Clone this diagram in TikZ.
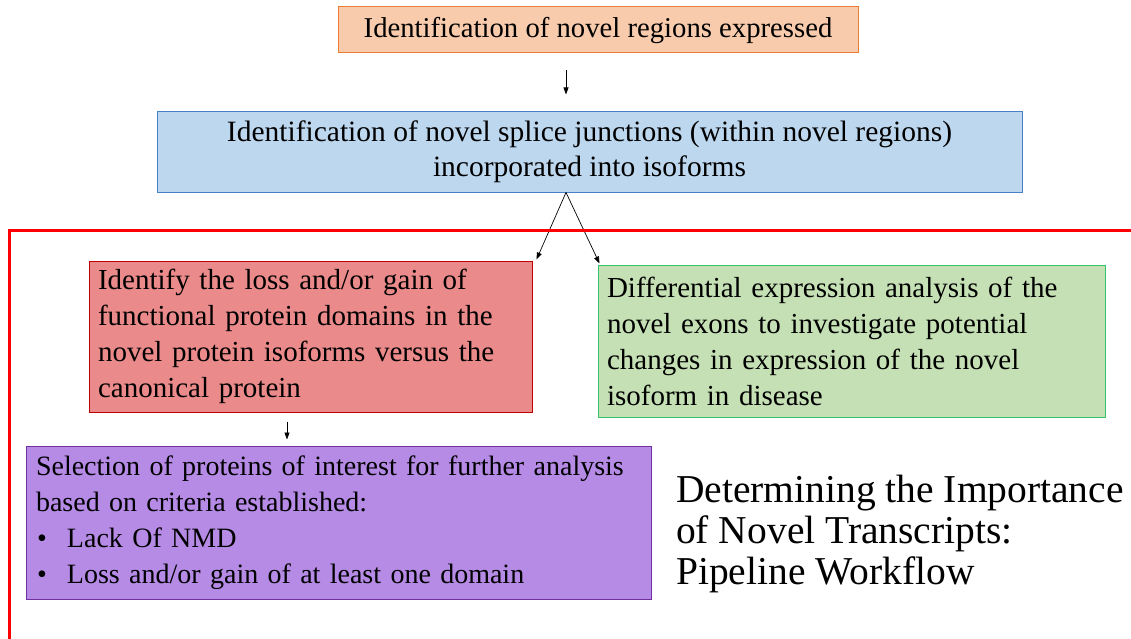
\documentclass[tikz,border=0pt]{standalone}
\usepackage{fontspec}
\setmainfont{Liberation Serif}
\usetikzlibrary{arrows.meta,calc}
\definecolor{orfill}{HTML}{F8CBAD}
\definecolor{ordraw}{HTML}{ED7D31}
\definecolor{blfill}{HTML}{BDD7EE}
\definecolor{bldraw}{HTML}{4A7EC7}
\definecolor{rdfill}{HTML}{EA8A8A}
\definecolor{rddraw}{HTML}{C00000}
\definecolor{grfill}{HTML}{C5E0B4}
\definecolor{grdraw}{HTML}{33C46A}
\definecolor{pufill}{HTML}{B68BE6}
\definecolor{pudraw}{HTML}{7030A0}
\tikzset{
  box/.style={draw, line width=1pt, inner ysep=0pt, font=\fontsize{29}{36}\selectfont},
  arr/.style={-{Triangle[length=7pt,width=5pt]}, line width=0.7pt, draw=black},
}
\begin{document}
\begin{tikzpicture}[x=1pt,y=-1pt]
\useasboundingbox (0,0) rectangle (1131,639);
\node[box, fill=orfill, draw=ordraw, minimum width=520pt, minimum height=46pt, font=\fontsize{28.7}{36}\selectfont] (o) at (598,30) {Identification of novel regions expressed};
\node[box, fill=blfill, draw=bldraw, minimum width=865pt, minimum height=80pt, align=center, font=\fontsize{29.5}{35}\selectfont] (b) at (589.5,152) {Identification of novel splice junctions (within novel regions)\\incorporated into isoforms};
\node[box, fill=rdfill, draw=rddraw, minimum width=443pt, minimum height=151pt, inner xsep=9pt, text width=425pt, align=left] (r) at (310.5,336.5) {Identify the loss and/or gain of\\functional protein domains in the\\novel protein isoforms versus the\\canonical protein};
\node[box, fill=grfill, draw=grdraw, minimum width=507pt, minimum height=152pt, inner xsep=9pt, text width=489pt, align=left] (g) at (851.5,341) {Differential expression analysis of the\\novel exons to investigate potential\\changes in expression of the novel\\isoform in disease};
\node[box, fill=pufill, draw=pudraw, minimum width=625pt, minimum height=153pt, inner xsep=10pt, text width=605pt, align=left, font=\fontsize{28}{36}\selectfont] (p) at (338.5,522.5) {\mbox{Selection of proteins of interest for further analysis}\\based on criteria established:\\\makebox[31pt][l]{\hspace{1pt}\textbullet}Lack Of NMD\\\makebox[31pt][l]{\hspace{1pt}\textbullet}Loss and/or gain of at least one domain};
\node[anchor=north west, inner sep=0pt, align=left, font=\fontsize{39.5}{41}\selectfont] (t) at (676,475) {Determining the Importance\\of Novel Transcripts:\\Pipeline Workflow};
\coordinate (ax) at (566,0);
\coordinate (bx) at (287,0);
\draw[arr, shorten <=17pt, shorten >=17pt] (o.south -| ax) -- (b.north -| ax);
\draw[arr] (b.south -| ax) -- ([xshift=4pt,yshift=1pt]r.north east);
\draw[arr] (b.south -| ax) -- ([xshift=2pt,yshift=1pt]g.north west);
\draw[arr, shorten <=9pt, shorten >=6pt] (r.south -| bx) -- (p.north -| bx);
\draw[red, line width=3pt] (9,645) -- (9,230) -- (1140,230);
\end{tikzpicture}
\end{document}
